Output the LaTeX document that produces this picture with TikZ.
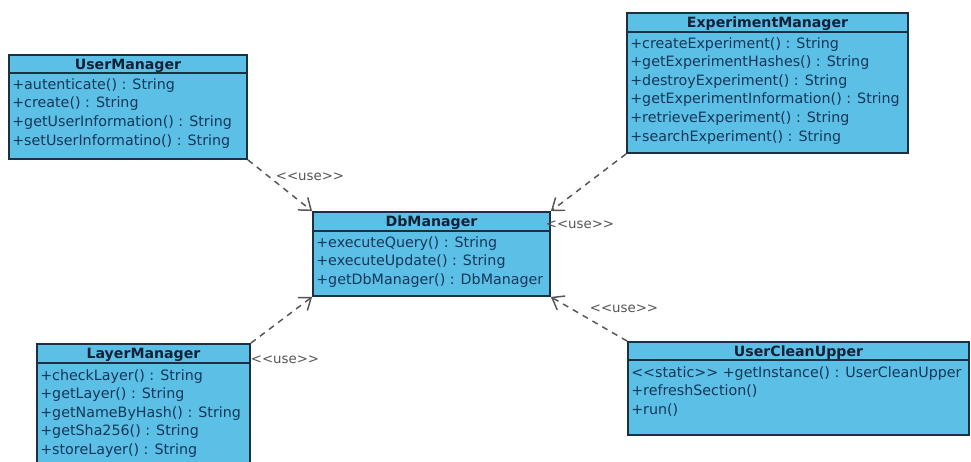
\documentclass[tikz,border=0pt]{standalone}
\usepackage{fontspec}
\newfontfamily\umlfont{DejaVu Sans}
\usetikzlibrary{arrows.meta,fit}
\definecolor{classfill}{HTML}{5BBFE6}
\definecolor{classedge}{HTML}{1B3040}
\definecolor{memberink}{HTML}{14375A}
\definecolor{titleink}{HTML}{0E2236}
\definecolor{useink}{HTML}{555555}
\tikzset{
  classbox/.style={draw=classedge, fill=classfill, line width=1.4pt, inner sep=0pt},
  classrule/.style={draw=classedge, line width=1.1pt},
  classtitle/.style={font=\umlfont\bfseries\fontsize{10.6}{12}\selectfont, text=titleink, inner sep=0pt, anchor=base},
  member/.style={font=\umlfont\fontsize{10.7}{12}\selectfont, text=memberink, inner sep=0pt, anchor=base west},
  usedep/.style={draw=useink, line width=1.1pt, dash pattern=on 4.5pt off 4pt,
    -{Straight Barb[length=8pt,width=12pt,line width=1.1pt]}},
  uselabel/.style={font=\umlfont\fontsize{10}{12}\selectfont, text=useink, inner sep=0pt}
}
\begin{document}
\begin{tikzpicture}[x=0.75pt,y=-0.75pt]
\useasboundingbox (0,0) rectangle (971,461);
\clip (0,0) rectangle (971,461);

% UserManager
\node[classbox, fit={(9,55) (247,159)}] (um) {};
\draw[classrule] (9,73) -- (247,73);
\node[classtitle] (umt) at (128,69) {UserManager};
\foreach \m [count=\i] in {+autenticate() : String, +create() : String,
    +getUserInformation() : String, +setUserInformatino() : String}
  \node[member] (um\i) at (12,{89+(\i-1)*18.7}) {\m};

% ExperimentManager
\node[classbox, fit={(627,13) (908,153)}] (em) {};
\draw[classrule] (627,32) -- (908,32);
\node[classtitle] (emt) at (767.5,27) {ExperimentManager};
\foreach \m [count=\i] in {+createExperiment() : String, +getExperimentHashes() : String,
    +destroyExperiment() : String, +getExperimentInformation() : String,
    +retrieveExperiment() : String, +searchExperiment() : String}
  \node[member] (em\i) at (630,{48+(\i-1)*18.6}) {\m};

% DbManager
\node[classbox, fit={(313,212) (550,296)}] (db) {};
\draw[classrule] (313,231) -- (550,231);
\node[classtitle] (dbt) at (431.5,226) {DbManager};
\foreach \m [count=\i] in {+executeQuery() : String, +executeUpdate() : String,
    +getDbManager() : DbManager}
  \node[member] (db\i) at (316,{247+(\i-1)*18.6}) {\m};

% LayerManager
\node[classbox, fit={(37,344) (250,480)}] (lm) {};
\draw[classrule] (37,363) -- (250,363);
\node[classtitle] (lmt) at (143.5,358) {LayerManager};
\foreach \m [count=\i] in {+checkLayer() : String, +getLayer() : String,
    +getNameByHash() : String, +getSha256() : String, +storeLayer() : String}
  \node[member] (lm\i) at (40,{380+(\i-1)*18.6}) {\m};

% UserCleanUpper
\node[classbox, fit={(628,342) (969,435)}] (ucu) {};
\draw[classrule] (628,360) -- (969,360);
\node[classtitle] (ucut) at (798.5,356) {UserCleanUpper};
\foreach \m [count=\i] in {<<static>> +getInstance() : UserCleanUpper,
    +refreshSection(), +run()}
  \node[member] (ucu\i) at (631,{377+(\i-1)*18.6}) {\m};

% dependencies on DbManager
\draw[usedep] (um.south east) -- (db.north west);
\draw[usedep] (em.south west) -- (db.north east);
\draw[usedep] (lm.north east) -- (db.south west);
\draw[usedep] (ucu.north west) -- (db.south east);

\node[uselabel] (use1) at (310,177) {<<use>>};
\node[uselabel] (use2) at (580,225) {<<use>>};
\node[uselabel] (use3) at (285,360) {<<use>>};
\node[uselabel] (use4) at (624,309) {<<use>>};
\end{tikzpicture}
\end{document}
